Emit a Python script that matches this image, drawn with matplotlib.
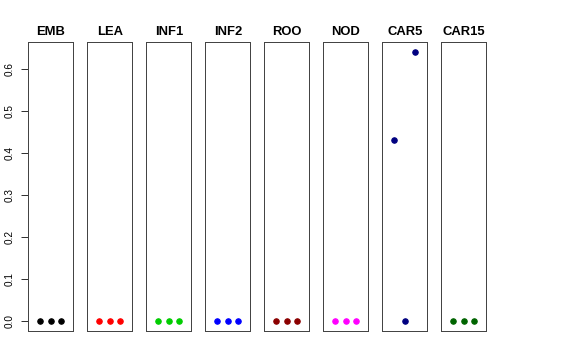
import matplotlib
matplotlib.use('Agg')
import matplotlib.pyplot as plt

groups = ['EMB', 'LEA', 'INF1', 'INF2', 'ROO', 'NOD', 'CAR5', 'CAR15']
colors = ['black', 'red', '#00cd00', 'blue', '#8b0000', 'magenta', '#000080', '#006400']
reps = [1, 2, 3]
values = {
    'EMB':   [0.0, 0.0, 0.0],
    'LEA':   [0.0, 0.0, 0.0],
    'INF1':  [0.0, 0.0, 0.0],
    'INF2':  [0.0, 0.0, 0.0],
    'ROO':   [0.0, 0.0, 0.0],
    'NOD':   [0.0, 0.0, 0.0],
    'CAR5':  [0.43, 0.0, 0.64],
    'CAR15': [0.0, 0.0, 0.0],
}
yticks = [0.0, 0.1, 0.2, 0.3, 0.4, 0.5, 0.6]

W, H = 576, 360
fig = plt.figure(figsize=(W / 72, H / 72), dpi=72)

left0 = 28.3
width = 45
step = 59
top = 42.3
bottom = 330.7

for i, g in enumerate(groups):
    l = left0 + i * step
    ax = fig.add_axes([l / W, 1 - bottom / H, width / W, (bottom - top) / H])
    ax.plot(reps, values[g], 'o', color=colors[i], markersize=5.5, linestyle='none')
    ax.set_xlim(-0.18, 4.18)
    ax.set_ylim(-0.024, 0.664)
    ax.set_xticks([])
    for s in ax.spines.values():
        s.set_color('#444444')
        s.set_linewidth(1.0)
    ax.set_title(g, fontsize=13, fontweight='bold', family='Liberation Sans', pad=7)
    if i == 0:
        ax.set_yticks(yticks)
        ax.set_yticklabels(['%.1f' % t for t in yticks], rotation=90, va='center',
                           fontsize=10, family='Liberation Sans')
        ax.tick_params(axis='y', length=7, width=0.8, pad=7)
    else:
        ax.set_yticks([])

fig.savefig('out.png', dpi=72)
